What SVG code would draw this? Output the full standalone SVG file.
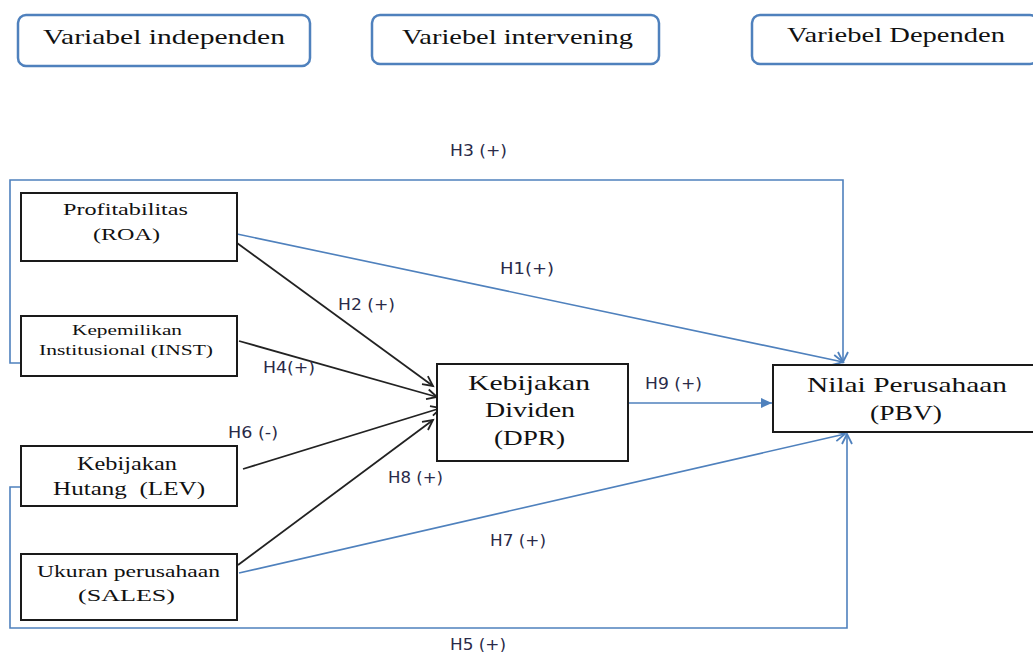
<svg xmlns="http://www.w3.org/2000/svg" width="1033" height="652" viewBox="0 0 1033 652">
<style>
.hdr{fill:#fff;stroke:#4f81bd;stroke-width:2.5}
.box{fill:#fff;stroke:#1a1a1a;stroke-width:2}
.serif{font-family:"Liberation Serif","Times New Roman",serif;fill:#111}
.lbl{font-family:"DejaVu Sans","Verdana",sans-serif;font-size:15px;fill:#2a2a48}
.blk{fill:none;stroke:#222;stroke-width:1.8}
.blu{fill:none;stroke:#4f81bd;stroke-width:1.6}
</style>
<defs>
<marker id="vb" markerUnits="userSpaceOnUse" markerWidth="14" markerHeight="14" refX="11" refY="6" orient="auto" viewBox="0 0 14 12">
<path d="M1,1 L11,6 L1,11" fill="none" stroke="#222" stroke-width="1.8"/>
</marker>
<marker id="vbl" markerUnits="userSpaceOnUse" markerWidth="14" markerHeight="14" refX="11" refY="6" orient="auto" viewBox="0 0 14 12">
<path d="M1,1 L11,6 L1,11" fill="none" stroke="#4f81bd" stroke-width="1.8"/>
</marker>
<marker id="tri" markerUnits="userSpaceOnUse" markerWidth="12" markerHeight="12" refX="11" refY="5" orient="auto" viewBox="0 0 12 10">
<path d="M0,0 L11,5 L0,10 Z" fill="#4f81bd"/>
</marker>
</defs>
<rect width="1033" height="652" fill="#fff"/>

<g id="hdr1"><rect class="hdr" x="18" y="15" width="292" height="51" rx="8"/>
<text class="serif" x="43" y="44" font-size="21" textLength="242" lengthAdjust="spacingAndGlyphs">Variabel independen</text></g>
<g id="hdr2"><rect class="hdr" x="372" y="15" width="287" height="49" rx="8"/>
<text class="serif" x="402" y="44" font-size="21" textLength="231" lengthAdjust="spacingAndGlyphs">Variebel intervening</text></g>
<g id="hdr3"><rect class="hdr" x="752" y="15" width="286" height="49" rx="8"/>
<text class="serif" x="787" y="42" font-size="21" textLength="218" lengthAdjust="spacingAndGlyphs">Variebel Dependen</text></g>

<g id="connectors">
<polyline class="blu" points="21,363 10,363 10,180 843,180 843,362" marker-end="url(#vbl)"/>
<polyline class="blu" points="21,487 10,487 10,628 847,628 847,434" marker-end="url(#vbl)"/>
<line class="blu" x1="237" y1="234" x2="843" y2="362" marker-end="url(#vbl)"/>
<line class="blu" x1="239" y1="573" x2="845" y2="434" marker-end="url(#vbl)"/>
<line class="blu" x1="628" y1="403" x2="772" y2="403" marker-end="url(#tri)"/>
<line class="blk" x1="237" y1="243" x2="433" y2="386" marker-end="url(#vb)"/>
<line class="blk" x1="239" y1="341" x2="437" y2="397" marker-end="url(#vb)"/>
<line class="blk" x1="243" y1="469" x2="441" y2="408" marker-end="url(#vb)"/>
<line class="blk" x1="238" y1="565" x2="433" y2="420" marker-end="url(#vb)"/>
<text class="lbl" x="450" y="156" textLength="57" lengthAdjust="spacingAndGlyphs">H3 (+)</text>
<text class="lbl" x="500" y="274" textLength="54" lengthAdjust="spacingAndGlyphs">H1(+)</text>
<text class="lbl" x="338" y="310" textLength="57" lengthAdjust="spacingAndGlyphs">H2 (+)</text>
<text class="lbl" x="263" y="373" textLength="52" lengthAdjust="spacingAndGlyphs">H4(+)</text>
<text class="lbl" x="228" y="438" textLength="50" lengthAdjust="spacingAndGlyphs">H6 (-)</text>
<text class="lbl" x="388" y="483" textLength="55" lengthAdjust="spacingAndGlyphs">H8 (+)</text>
<text class="lbl" x="645" y="389" textLength="57" lengthAdjust="spacingAndGlyphs">H9 (+)</text>
<text class="lbl" x="490" y="546" textLength="56" lengthAdjust="spacingAndGlyphs">H7 (+)</text>
<text class="lbl" x="450" y="650" textLength="56" lengthAdjust="spacingAndGlyphs">H5 (+)</text>
</g>

<g id="roa"><rect class="box" x="21" y="193" width="216" height="68"/>
<text class="serif" x="63" y="215" font-size="17" textLength="125" lengthAdjust="spacingAndGlyphs">Profitabilitas</text>
<text class="serif" x="93" y="240" font-size="17" textLength="67" lengthAdjust="spacingAndGlyphs">(ROA)</text></g>

<g id="inst"><rect class="box" x="21" y="316" width="216" height="60"/>
<text class="serif" x="72" y="335" font-size="15" textLength="110" lengthAdjust="spacingAndGlyphs">Kepemilikan</text>
<text class="serif" x="39" y="355" font-size="15" textLength="174" lengthAdjust="spacingAndGlyphs">Institusional (INST)</text></g>

<g id="lev"><rect class="box" x="21" y="446" width="216" height="60"/>
<text class="serif" x="77" y="470" font-size="18" textLength="100" lengthAdjust="spacingAndGlyphs">Kebijakan</text>
<text class="serif" x="53" y="495" font-size="18" textLength="152" lengthAdjust="spacingAndGlyphs" xml:space="preserve">Hutang  (LEV)</text></g>

<g id="sales"><rect class="box" x="21" y="554" width="216" height="66"/>
<text class="serif" x="37" y="577" font-size="17" textLength="183" lengthAdjust="spacingAndGlyphs">Ukuran perusahaan</text>
<text class="serif" x="78" y="601" font-size="17" textLength="97" lengthAdjust="spacingAndGlyphs">(SALES)</text></g>

<g id="dpr"><rect class="box" x="437" y="364" width="191" height="97"/>
<text class="serif" x="468" y="390" font-size="21" textLength="122" lengthAdjust="spacingAndGlyphs">Kebijakan</text>
<text class="serif" x="485" y="417" font-size="21" textLength="90" lengthAdjust="spacingAndGlyphs">Dividen</text>
<text class="serif" x="494" y="445" font-size="21" textLength="71" lengthAdjust="spacingAndGlyphs">(DPR)</text></g>

<g id="pbv"><rect class="box" x="773" y="365" width="262" height="67"/>
<text class="serif" x="807" y="392" font-size="21" textLength="200" lengthAdjust="spacingAndGlyphs">Nilai Perusahaan</text>
<text class="serif" x="870" y="420" font-size="21" textLength="72" lengthAdjust="spacingAndGlyphs">(PBV)</text></g>
</svg>
